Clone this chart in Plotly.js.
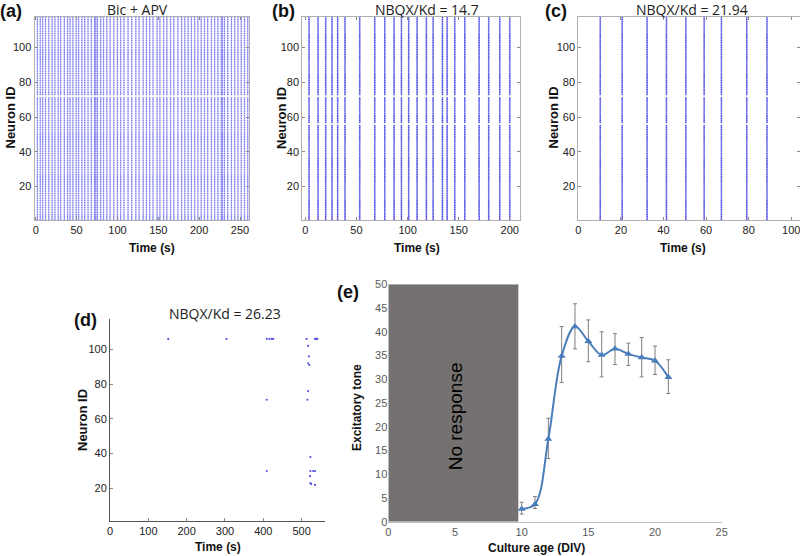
<!DOCTYPE html>
<html>
<head>
<meta charset="utf-8">
<script src="https://cdn.plot.ly/plotly-3.0.1.min.js"></script>
<style>html,body{margin:0;padding:0;background:#fff;}#chart{width:800px;height:556px;}</style>
</head>
<body>
<div id="chart"></div>
<script>
// ---------- DATA ----------
const neuronCount = 117;
// (a) Bic + APV : network burst times (s)
const burstsA = [2, 5.5, 8.5, 12, 16, 20, 23.5, 27.5, 30.5, 35, 39, 42, 45.5, 49.5, 52.5, 56.5, 60, 64, 68, 72, 73.5, 75.5, 79.5, 83, 87, 91, 95.5, 100, 104, 108, 113, 117.5, 122.5, 126.5, 131.5, 135.5, 139.5, 143.5, 148.5, 152, 156.5, 160.5, 165, 169, 174, 178.5, 182.5, 186.5, 190.5, 194.5, 198.5, 202.5, 206.5, 210.5, 215, 219, 223, 227, 228.5, 231, 235, 239.5, 243.5, 247.5, 251.5, 255.5, 259.5];
const silentA = [72];
// (b) NBQX/Kd = 14.7
const burstsB = [3.6, 12.4, 19.9, 26.1, 31.6, 38.8, 53.2, 67.9, 77.7, 86.8, 94.0, 101.1, 109.3, 118.4, 125.0, 134.1, 138.7, 146.2, 156.0, 170.0, 179.4, 190.2, 200.0];
const silentB = [56, 72];
// (c) NBQX/Kd = 21.94
const burstsC = [10.3, 20.6, 32.3, 41.4, 50.5, 59.1, 67.2, 79.1, 88.6];
const silentC = [56, 72];
// (d) NBQX/Kd = 26.23 : isolated spikes
const spikeTimesD   = [152, 304, 409, 416, 422, 426, 513, 535, 538, 541, 517, 519, 517, 520, 517, 515, 409, 409, 523, 523, 530, 535, 522, 523, 525, 535];
const spikeNeuronsD = [106, 106, 106, 106, 106, 106, 106, 106, 106, 106, 102, 96, 92, 91, 76, 71, 71, 30, 38, 30, 30, 30, 27, 23, 22.5, 22];
// (e) Excitatory tone vs culture age
const ageDIV   = [10, 11, 12, 13, 14, 15, 16, 17, 18, 19, 20, 21];
const tone     = [2.7, 3.7, 17.4, 34.9, 41.1, 38.0, 35.1, 36.4, 35.3, 34.6, 33.9, 30.4];
const toneHigh = [4.1, 5.3, 21.8, 41.1, 45.9, 42.5, 40.0, 39.6, 37.6, 38.8, 37.0, 34.1];
const toneLow  = [1.6, 2.8, 13.3, 29.3, 36.4, 33.7, 30.5, 33.1, 32.9, 30.5, 31.0, 27.0];
const noResponseEnd = 9.75;

// ---------- BUILD ----------
function raster(bursts, silent) {
  const xs = [], ys = [];
  bursts.forEach(t => {
    for (let n = 1; n <= neuronCount; n++) {
      if (silent.indexOf(n) >= 0) continue;
      xs.push(t); ys.push(n);
    }
  });
  return {xs, ys};
}
const rA = raster(burstsA, silentA), rB = raster(burstsB, silentB), rC = raster(burstsC, silentC);
const rasterMarker = (c, s) => ({color: c, size: s, line: {width: 0}});

const traces = [
  {type: 'scatter', mode: 'markers', x: rA.xs, y: rA.ys, xaxis: 'x', yaxis: 'y', marker: rasterMarker('rgb(120,120,240)', 1.6), hoverinfo: 'skip'},
  {type: 'scatter', mode: 'markers', x: rB.xs, y: rB.ys, xaxis: 'x2', yaxis: 'y2', marker: rasterMarker('rgb(85,85,230)', 1.8), hoverinfo: 'skip'},
  {type: 'scatter', mode: 'markers', x: rC.xs, y: rC.ys, xaxis: 'x3', yaxis: 'y3', marker: rasterMarker('rgb(85,85,230)', 1.8), hoverinfo: 'skip'},
  {type: 'scatter', mode: 'markers', x: spikeTimesD, y: spikeNeuronsD, xaxis: 'x4', yaxis: 'y4', marker: rasterMarker('rgb(85,85,230)', 2.2), hoverinfo: 'skip'},
  {type: 'scatter', mode: 'lines+markers', x: ageDIV, y: tone, xaxis: 'x5', yaxis: 'y5',
   line: {color: '#4a7ebb', width: 2, shape: 'spline', smoothing: 1},
   marker: {symbol: 'triangle-up', size: 7, color: '#4a7ebb'},
   error_y: {type: 'data', symmetric: false,
     array: toneHigh.map((h, i) => h - tone[i]),
     arrayminus: toneLow.map((l, i) => tone[i] - l),
     color: '#7f7f7f', thickness: 1, width: 2}}
];

const W = 800, H = 556;
const px = v => v / W, py = v => 1 - v / H;

const tickFont = {family: 'Arial, Liberation Sans, sans-serif', size: 11, color: '#222'};
const rasterAxis = (extra) => Object.assign({
  showgrid: false, zeroline: false, ticks: 'inside', ticklen: 3, tickcolor: '#888',
  showline: true, linecolor: '#b0b0b0', linewidth: 1, mirror: 'ticks', tickfont: tickFont, fixedrange: true,
  ticklabeloverflow: 'allow'
}, extra);

const layout = {
  width: W, height: H, margin: {l: 0, r: 0, t: 0, b: 0}, showlegend: false,
  paper_bgcolor: '#fff', plot_bgcolor: 'rgba(0,0,0,0)',
  xaxis:  rasterAxis({domain: [px(34.5), px(249)], range: [-1.5, 261], tickvals: [0, 50, 100, 150, 200, 250], anchor: 'y'}),
  yaxis:  rasterAxis({domain: [py(220), py(17)], range: [0.8, 117.5], tickvals: [20, 40, 60, 80, 100], anchor: 'x'}),
  xaxis2: rasterAxis({domain: [px(302.3), px(520)], range: [-3, 210], tickvals: [0, 50, 100, 150, 200], anchor: 'y2'}),
  yaxis2: rasterAxis({domain: [py(220), py(17)], range: [0.8, 117.5], tickvals: [20, 40, 60, 80, 100], anchor: 'x2'}),
  xaxis3: rasterAxis({domain: [px(578.3), 1], range: [0, 104.1], tickvals: [0, 20, 40, 60, 80, 100], anchor: 'y3'}),
  yaxis3: rasterAxis({domain: [py(220), py(17)], range: [0.8, 117.5], tickvals: [20, 40, 60, 80, 100], anchor: 'x3'}),
  xaxis4: rasterAxis({domain: [px(110), px(325)], range: [0, 561], tickvals: [0, 100, 200, 300, 400, 500], anchor: 'y4', mirror: false, linecolor: '#555'}),
  yaxis4: rasterAxis({domain: [py(520.7), py(319.3)], range: [1.4, 117.3], tickvals: [20, 40, 60, 80, 100], anchor: 'x4', mirror: false, linecolor: '#555'}),
  xaxis5: {domain: [px(388.3), px(721.7)], range: [0, 25], tickvals: [0, 5, 10, 15, 20, 25], anchor: 'y5',
    showgrid: false, zeroline: false, showline: true, linecolor: '#bfbfbf', linewidth: 1, ticks: '',
    tickfont: {family: 'Arial, sans-serif', size: 11, color: '#595959'}, fixedrange: true},
  yaxis5: {domain: [py(521.7), py(284.3)], range: [0, 50], tickvals: [0, 5, 10, 15, 20, 25, 30, 35, 40, 45, 50], anchor: 'x5',
    showgrid: false, zeroline: false, showline: false, ticks: '',
    tickfont: {family: 'Arial, sans-serif', size: 11, color: '#595959'}, fixedrange: true},
  shapes: [
    {type: 'rect', xref: 'x5', yref: 'y5', x0: 0, x1: noResponseEnd, y0: 0, y1: 50, fillcolor: '#767171', line: {width: 0}, layer: 'below'}
  ],
  annotations: []
};

function ann(text, x, y, opts) {
  layout.annotations.push(Object.assign({text, x: px(x), y: py(y), xref: 'paper', yref: 'paper',
    showarrow: false, xanchor: 'center', yanchor: 'middle'}, opts));
}
const labFont = {family: 'Arial, sans-serif', size: 18, color: '#111'};
const titleFont = {family: 'Open Sans, sans-serif', size: 14, color: '#222'};
const axFont = {family: 'Arial, sans-serif', size: 13, color: '#111'};
const axFontH = {family: 'Arial, sans-serif', size: 12, color: '#111'};

// panel labels
ann('<b>(a)</b>', 11, 11, {font: labFont});
ann('<b>(b)</b>', 283.7, 11, {font: labFont});
ann('<b>(c)</b>', 556, 11, {font: labFont});
ann('<b>(d)</b>', 85.5, 320, {font: labFont});
ann('<b>(e)</b>', 348, 292, {font: labFont});
// titles
ann('Bic + APV', 137, 9, {font: titleFont});
ann('NBQX/Kd = 14.7', 427, 9, {font: titleFont});
ann('NBQX/Kd = 21.94', 692, 9, {font: titleFont});
ann('NBQX/Kd = 26.23', 225, 313.5, {font: titleFont});
// axis titles
ann('<b>Neuron ID</b>', 9.5, 118, {font: axFont, textangle: -90});
ann('<b>Neuron ID</b>', 281, 118, {font: axFont, textangle: -90});
ann('<b>Neuron ID</b>', 552.5, 118, {font: axFont, textangle: -90});
ann('<b>Neuron ID</b>', 82, 420, {font: axFont, textangle: -90});
ann('<b>Time (s)</b>', 152, 248, {font: axFontH});
ann('<b>Time (s)</b>', 416.7, 248, {font: axFontH});
ann('<b>Time (s)</b>', 682.5, 248, {font: axFontH});
ann('<b>Time (s)</b>', 218, 547, {font: axFontH});
ann('<b>Excitatory tone</b>', 357, 408, {font: {family: 'Arial, sans-serif', size: 12, color: '#111'}, textangle: -90});
ann('<b>Culture age (DIV)</b>', 536, 548, {font: {family: 'Arial, sans-serif', size: 12, color: '#111'}});
// in-plot label for panel (e)
layout.annotations.push({text: 'No response', xref: 'x5', yref: 'y5', x: 5.0, y: 22.2, showarrow: false,
  textangle: -90, font: {family: 'Arial, sans-serif', size: 19, color: '#000'}, xanchor: 'center', yanchor: 'middle'});

Plotly.newPlot('chart', traces, layout, {staticPlot: true, displayModeBar: false});
</script>
</body>
</html>
